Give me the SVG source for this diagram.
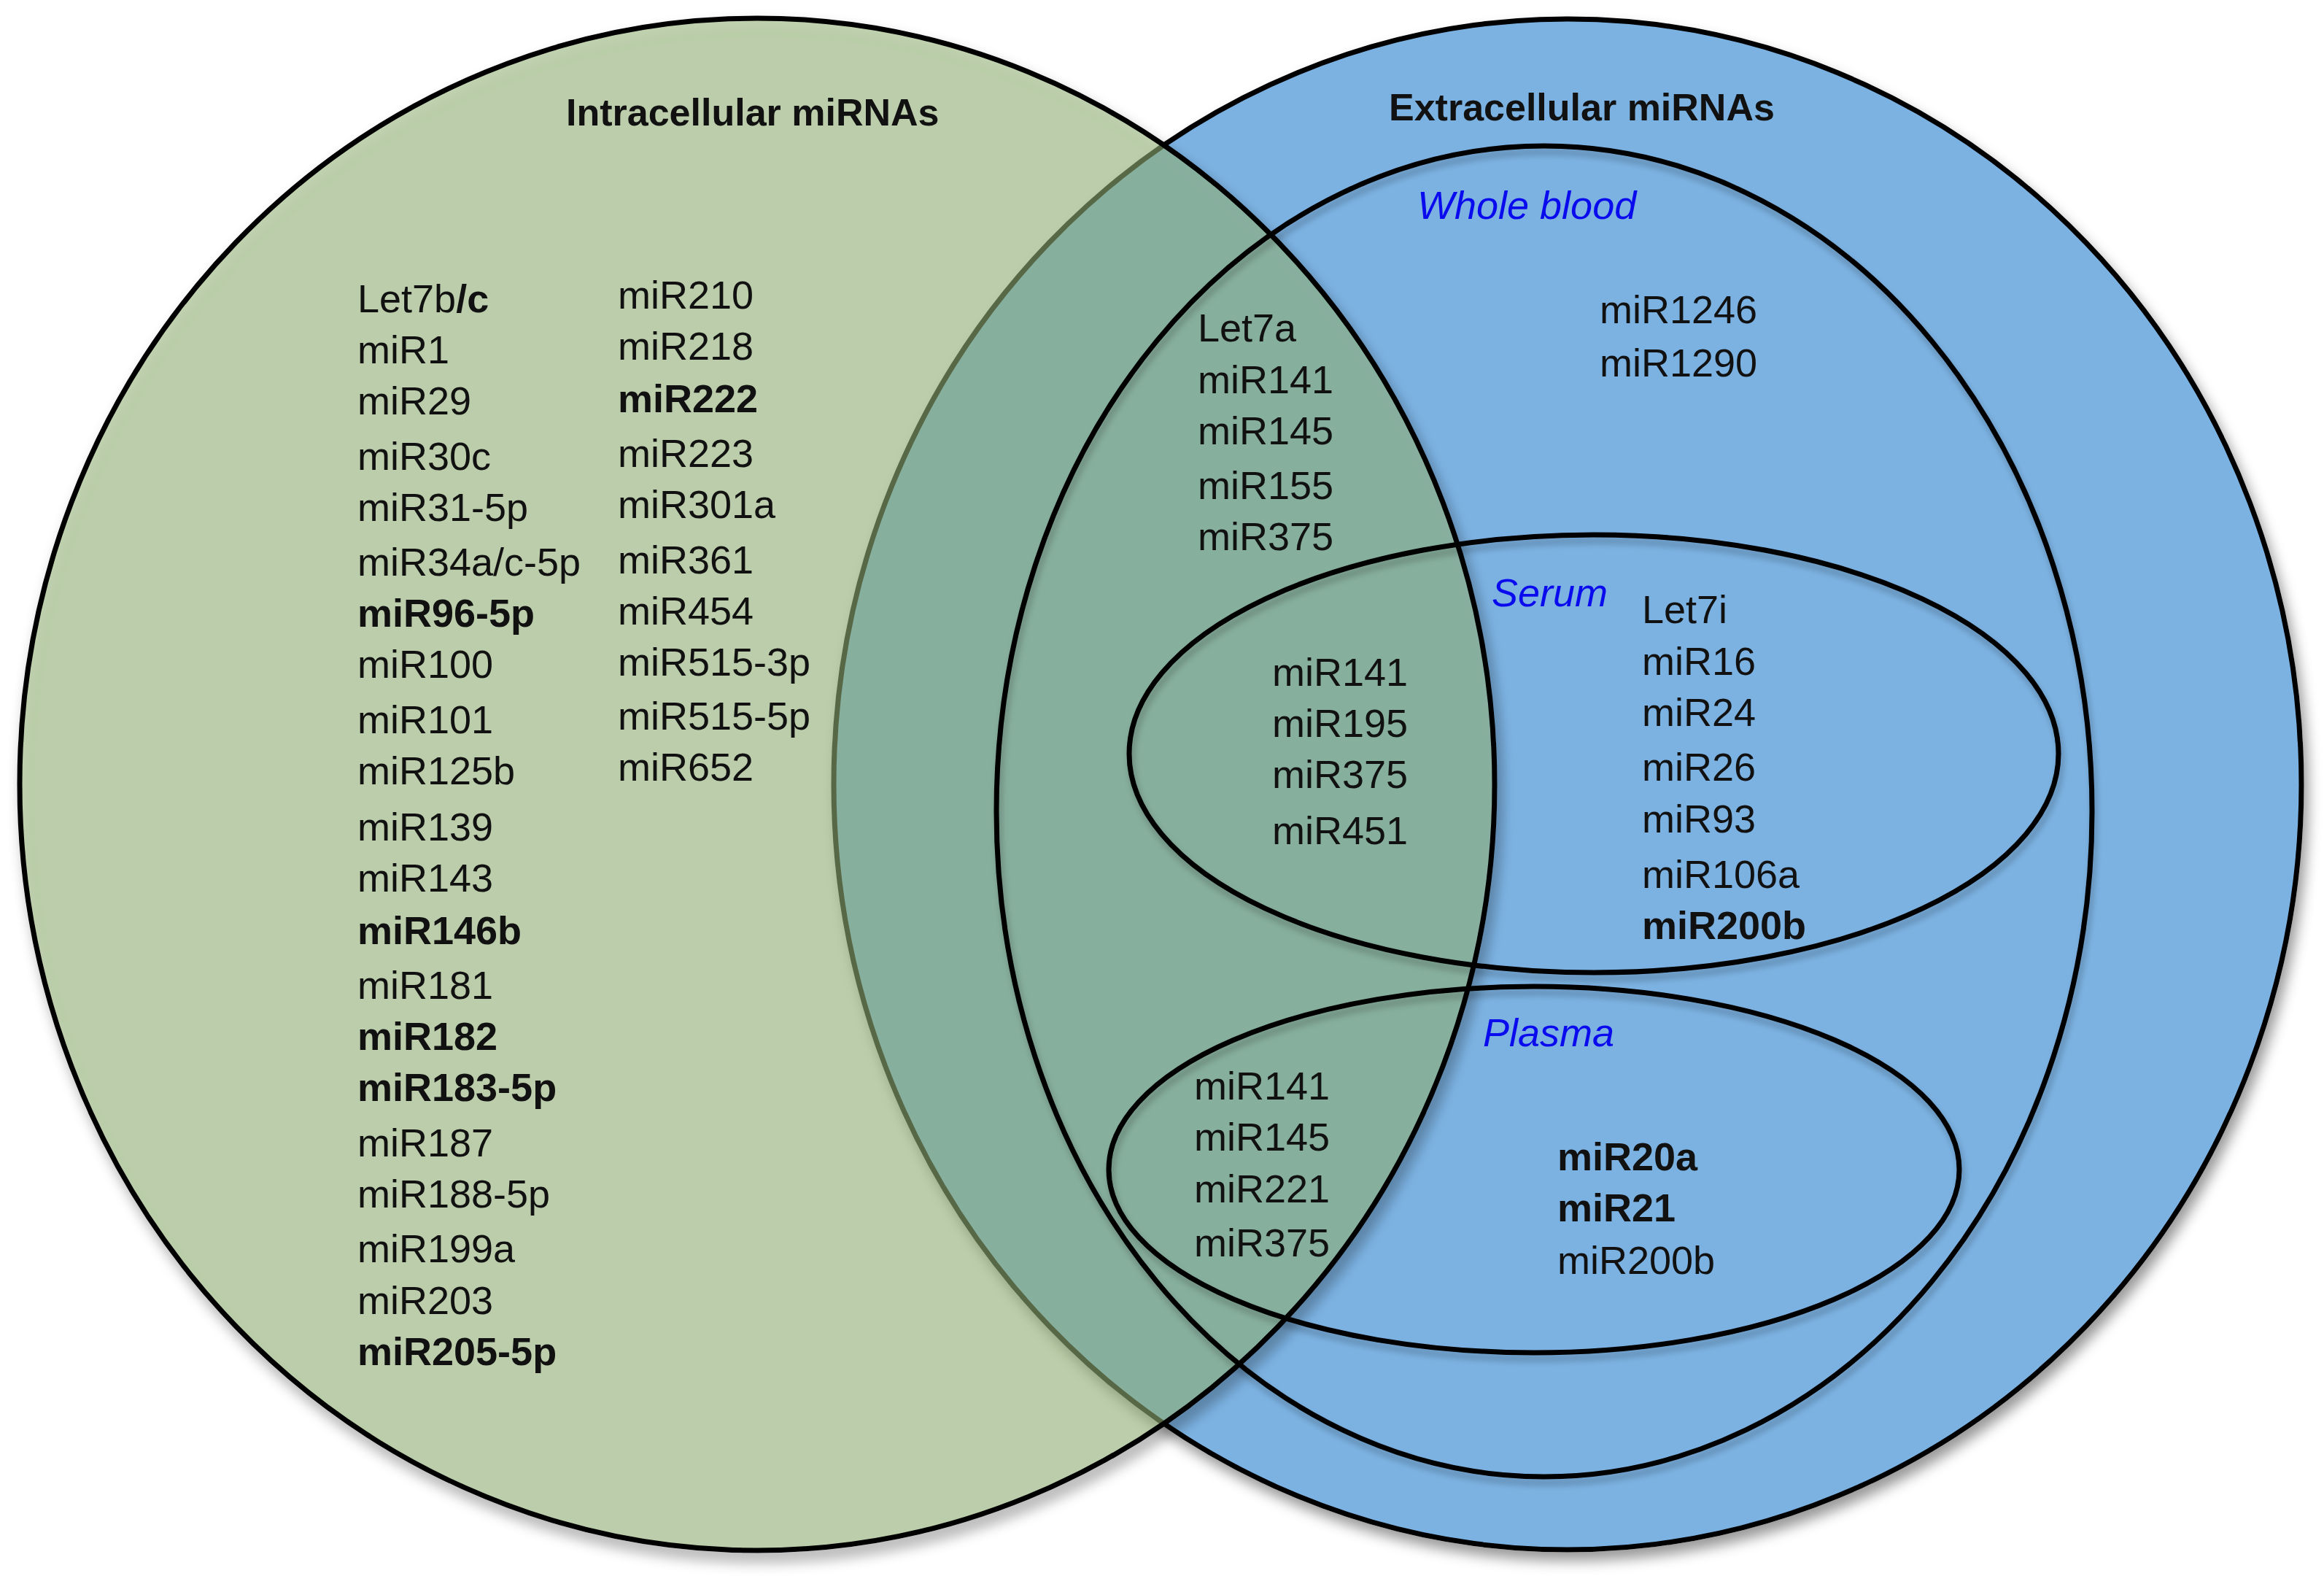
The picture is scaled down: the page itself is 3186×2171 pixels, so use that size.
<svg xmlns="http://www.w3.org/2000/svg" width="3186" height="2171" viewBox="0 0 3186 2171">
<defs>
<filter id="shadow" x="-10%" y="-10%" width="120%" height="120%">
<feGaussianBlur in="SourceAlpha" stdDeviation="9" result="b"/>
<feOffset in="b" dx="6" dy="12" result="o"/>
<feComposite in="o" in2="SourceAlpha" operator="out" result="c"/>
<feColorMatrix in="c" type="matrix" values="0 0 0 0 0  0 0 0 0 0  0 0 0 0 0  0 0 0 0.4 0" result="s"/>
<feMerge><feMergeNode in="s"/><feMergeNode in="SourceGraphic"/></feMerge>
</filter>
<filter id="lshadow" x="-10%" y="-10%" width="120%" height="120%">
<feGaussianBlur in="SourceAlpha" stdDeviation="5" result="b"/>
<feOffset in="b" dx="3" dy="8" result="o"/>
<feColorMatrix in="o" type="matrix" values="0 0 0 0 0  0 0 0 0 0  0 0 0 0 0  0 0 0 0.25 0" result="s"/>
<feMerge><feMergeNode in="s"/><feMergeNode in="SourceGraphic"/></feMerge>
</filter>
</defs>
<style>
text{font-family:"Liberation Sans",Arial,sans-serif;font-size:54px;fill:#111}
.b{font-weight:bold}
.t{font-weight:bold;font-size:52px}
.lbl{font-style:italic;fill:#0a0aee}
.ring{fill:none;stroke:#000;stroke-width:7}
</style>
<rect width="3186" height="2171" fill="#fff"/>
<g id="extracellular">
<ellipse cx="2149" cy="1075" rx="1006" ry="1049" fill="#7cb2e2" stroke="#000" stroke-width="7" filter="url(#shadow)"/>
</g>
<g id="intracellular">
<ellipse cx="1038" cy="1075" rx="1011" ry="1050" fill="#94b376" fill-opacity="0.56" stroke="#000" stroke-width="7" filter="url(#shadow)"/>
</g>
<g id="whole-blood">
<ellipse class="ring" cx="2117" cy="1112" rx="751" ry="912" filter="url(#lshadow)"/>
</g>
<g id="serum">
<ellipse class="ring" cx="2185" cy="1033" rx="637" ry="300" filter="url(#lshadow)"/>
</g>
<g id="plasma">
<ellipse class="ring" cx="2103" cy="1603" rx="583" ry="251" filter="url(#lshadow)"/>
</g>
<g id="intracellular-labels">
<text class="t" x="776" y="172">Intracellular miRNAs</text>
<text x="490" y="428">Let7b<tspan class="b">/c</tspan></text>
<text x="490" y="498">miR1</text>
<text x="490" y="568">miR29</text>
<text x="490" y="644">miR30c</text>
<text x="490" y="714">miR31-5p</text>
<text x="490" y="789">miR34a/c-5p</text>
<text class="b" x="490" y="859">miR96-5p</text>
<text x="490" y="929">miR100</text>
<text x="490" y="1005">miR101</text>
<text x="490" y="1075">miR125b</text>
<text x="490" y="1152">miR139</text>
<text x="490" y="1222">miR143</text>
<text class="b" x="490" y="1294">miR146b</text>
<text x="490" y="1369">miR181</text>
<text class="b" x="490" y="1439">miR182</text>
<text class="b" x="490" y="1509">miR183-5p</text>
<text x="490" y="1585">miR187</text>
<text x="490" y="1655">miR188-5p</text>
<text x="490" y="1730">miR199a</text>
<text x="490" y="1801">miR203</text>
<text class="b" x="490" y="1871">miR205-5p</text>
<text x="847" y="423">miR210</text>
<text x="847" y="493">miR218</text>
<text class="b" x="847" y="565">miR222</text>
<text x="847" y="640">miR223</text>
<text x="847" y="710">miR301a</text>
<text x="847" y="786">miR361</text>
<text x="847" y="856">miR454</text>
<text x="847" y="926">miR515-3p</text>
<text x="847" y="1000">miR515-5p</text>
<text x="847" y="1070">miR652</text>
</g>
<g id="extracellular-labels">
<text class="t" x="1904" y="165">Extracellular miRNAs</text>
<text class="lbl" x="1943" y="300">Whole blood</text>
<text x="2193" y="443">miR1246</text>
<text x="2193" y="516">miR1290</text>
<text x="1642" y="468">Let7a</text>
<text x="1642" y="539">miR141</text>
<text x="1642" y="609">miR145</text>
<text x="1642" y="684">miR155</text>
<text x="1642" y="754">miR375</text>
</g>
<g id="serum-labels">
<text class="lbl" x="2045" y="831">Serum</text>
<text x="2251" y="854">Let7i</text>
<text x="2251" y="925">miR16</text>
<text x="2251" y="995">miR24</text>
<text x="2251" y="1070">miR26</text>
<text x="2251" y="1141">miR93</text>
<text x="2251" y="1217">miR106a</text>
<text class="b" x="2251" y="1287">miR200b</text>
<text x="1744" y="940">miR141</text>
<text x="1744" y="1010">miR195</text>
<text x="1744" y="1080">miR375</text>
<text x="1744" y="1157">miR451</text>
</g>
<g id="plasma-labels">
<text class="lbl" x="2033" y="1434">Plasma</text>
<text x="1637" y="1507">miR141</text>
<text x="1637" y="1577">miR145</text>
<text x="1637" y="1648">miR221</text>
<text x="1637" y="1722">miR375</text>
<text class="b" x="2135" y="1604">miR20a</text>
<text class="b" x="2135" y="1674">miR21</text>
<text x="2135" y="1746">miR200b</text>
</g>
</svg>
